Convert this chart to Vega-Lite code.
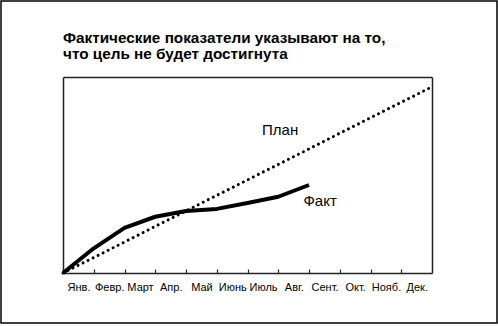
{
  "$schema": "https://vega.github.io/schema/vega-lite/v6.json",
  "width": 496,
  "height": 322,
  "autosize": {"type": "none"},
  "padding": {"left": 1, "top": 1, "right": 1, "bottom": 3},
  "background": "white",
  "config": {
    "view": {"stroke": "#000", "strokeWidth": 1.5},
    "font": "Liberation Sans",
    "axis": {"grid": false, "domainColor": "#222", "domainWidth": 1.5, "title": null}
  },
  "title": {
    "text": ["Фактические показатели указывают на то,", "что цель не будет достигнута"],
    "anchor": "start",
    "frame": "group",
    "dx": 62,
    "offset": -73,
    "baseline": "alphabetic",
    "fontSize": 15.3,
    "fontWeight": "bold",
    "font": "Liberation Sans",
    "color": "#000",
    "lineHeight": 16
  },
  "datasets": {
    "plan": [
      {"month": 0, "value": 0},
      {"month": 1, "value": 7.9},
      {"month": 2, "value": 15.8},
      {"month": 3, "value": 23.8},
      {"month": 4, "value": 31.7},
      {"month": 5, "value": 39.6},
      {"month": 6, "value": 47.5},
      {"month": 7, "value": 55.4},
      {"month": 8, "value": 63.3},
      {"month": 9, "value": 71.3},
      {"month": 10, "value": 79.2},
      {"month": 11, "value": 87.1},
      {"month": 12, "value": 95}
    ],
    "fact": [
      {"month": 0, "value": 0},
      {"month": 1, "value": 12.6},
      {"month": 2, "value": 23},
      {"month": 3, "value": 28.7},
      {"month": 4, "value": 31.6},
      {"month": 5, "value": 32.7},
      {"month": 6, "value": 35.7},
      {"month": 7, "value": 38.9},
      {"month": 8, "value": 44.9}
    ],
    "labels": [
      {"month": 7.06, "value": 73, "label": "План"},
      {"month": 8.36, "value": 36.7, "label": "Факт"}
    ]
  },
  "layer": [
    {
      "data": {"name": "plan"},
      "mark": {"type": "line", "strokeDash": [0.01, 5.6], "strokeCap": "round", "strokeWidth": 3, "color": "#000"},
      "encoding": {
        "x": {
          "field": "month", "type": "quantitative",
          "scale": {"domain": [0, 12], "range": [62, 431], "nice": false, "zero": false},
          "axis": {
            "orient": "bottom", "offset": -50,
            "values": [0, 1, 2, 3, 4, 5, 6, 7, 8, 9, 10, 11],
            "tickSize": -4, "tickColor": "#222", "tickWidth": 1.2,
            "labelExpr": "['Янв.', 'Февр.', 'Март', 'Апр.', 'Май', 'Июнь', 'Июль', 'Авг.', 'Сент.', 'Окт.', 'Нояб.', 'Дек.'][datum.value]",
            "labelOffset": 15.5, "labelPadding": 12, "labelFontSize": 11, "labelColor": "#000",
            "labelFlush": false, "labelOverlap": false, "labelAlign": "center", "labelBaseline": "top"
          }
        },
        "y": {
          "field": "value", "type": "quantitative",
          "scale": {"domain": [0, 100], "range": [272, 76], "nice": false},
          "axis": {"orient": "left", "offset": -62, "ticks": false, "labels": false}
        }
      }
    },
    {
      "data": {"name": "fact"},
      "mark": {"type": "line", "strokeWidth": 4, "interpolate": "linear", "strokeJoin": "round", "color": "#000"},
      "encoding": {
        "x": {
          "field": "month", "type": "quantitative",
          "scale": {"domain": [0, 12], "range": [62, 431], "nice": false, "zero": false},
          "axis": {"orient": "top", "offset": -76, "ticks": false, "labels": false}
        },
        "y": {
          "field": "value", "type": "quantitative",
          "scale": {"domain": [0, 100], "range": [272, 76], "nice": false},
          "axis": {"orient": "right", "offset": -65, "ticks": false, "labels": false}
        }
      }
    },
    {
      "data": {"name": "labels"},
      "mark": {"type": "text", "fontSize": 15, "align": "center", "baseline": "middle", "color": "#000", "font": "Liberation Sans"},
      "encoding": {
        "x": {"field": "month", "type": "quantitative", "axis": null},
        "y": {"field": "value", "type": "quantitative", "axis": null},
        "text": {"field": "label"}
      }
    }
  ],
  "resolve": {"axis": {"x": "independent", "y": "independent"}}
}
